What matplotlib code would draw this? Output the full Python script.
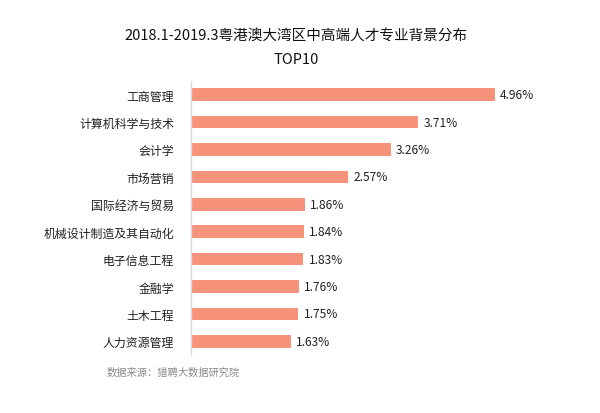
import matplotlib
matplotlib.use("Agg")
import matplotlib.pyplot as plt

plt.rcParams['font.family'] = ['Noto Sans CJK SC', 'DejaVu Sans']

categories = ["工商管理", "计算机科学与技术", "会计学", "市场营销", "国际经济与贸易",
              "机械设计制造及其自动化", "电子信息工程", "金融学", "土木工程", "人力资源管理"]
values = [4.96, 3.71, 3.26, 2.57, 1.86, 1.84, 1.83, 1.76, 1.75, 1.63]
title = "2018.1-2019.3粤港澳大湾区中高端人才专业背景分布\nTOP10"
source = "数据来源：猎聘大数据研究院"

fig = plt.figure(figsize=(6, 4.14), dpi=100)
ax = fig.add_axes([0.318, 0.140, 0.572, 0.662])
y = list(range(len(categories)))
ax.barh(y, values, height=0.46, color="#F8937B")
ax.set_ylim(len(categories) - 0.5, -0.5)
ax.set_xlim(0, 5.6)
ax.set_yticks(y)
ax.set_yticklabels(categories, fontsize=8.6, color="#222222")
ax.tick_params(axis='y', length=0, pad=12)
ax.set_xticks([])
for s in ["top", "right", "bottom"]:
    ax.spines[s].set_visible(False)
ax.spines["left"].set_color("#D9D9D9")
ax.spines["left"].set_linewidth(1.0)
for yi, v in zip(y, values):
    ax.text(v + 0.09, yi, f"{v:.2f}%", va="center", ha="left", fontsize=8.6, color="#222222")

fig.text(0.493, 0.885, title, ha="center", va="center", fontsize=10.5, color="#111111",
         linespacing=1.9)
fig.text(0.177, 0.100, source, ha="left", va="center", fontsize=7.4, color="#8A8A8A")

fig.savefig("out.png", dpi=100)
